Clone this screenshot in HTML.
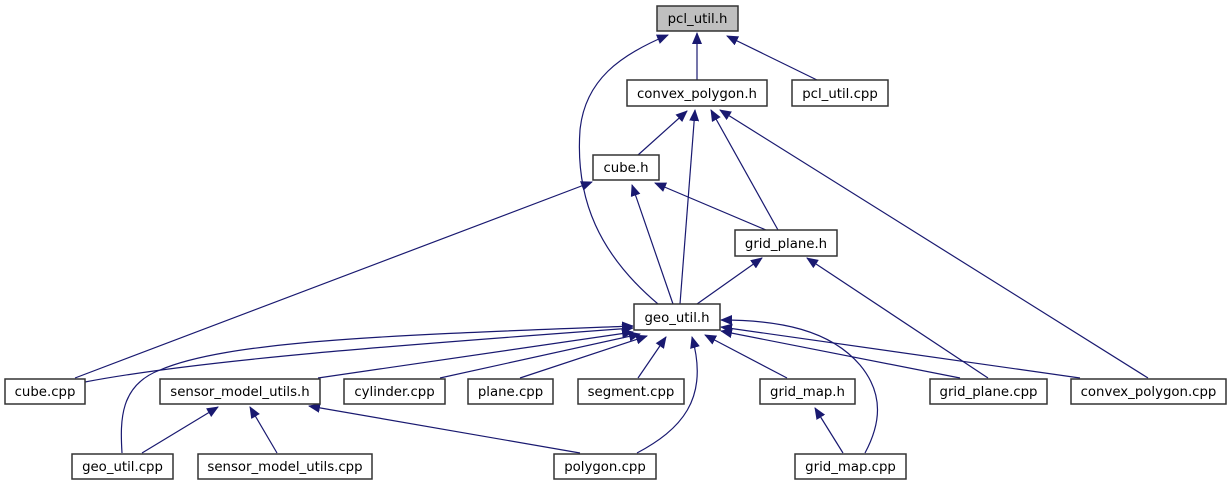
<!DOCTYPE html>
<html><head><meta charset="utf-8"><style>
html,body{margin:0;padding:0;background:#fff;width:1232px;height:485px;overflow:hidden}
svg text{font-family:"DejaVu Sans","Liberation Sans",sans-serif;font-size:13.3px;fill:#000}
</style></head><body>
<svg width="1232" height="485" viewBox="0 0 1232 485" xmlns="http://www.w3.org/2000/svg">
<defs><marker id="a" markerWidth="12" markerHeight="10" refX="11" refY="5" orient="auto" markerUnits="userSpaceOnUse"><path d="M0,0 L12,5 L0,10 z" fill="#191970"/></marker></defs>
<g stroke="#191970" stroke-width="1.2" fill="none" marker-end="url(#a)">
<path d="M697,80 L697,33"/>
<path d="M817,80 L727,36"/>
<path d="M658,304 C600,255 575,200 580,130 C585,80 620,55 668,35"/>
<path d="M638,155 L687,111"/>
<path d="M680,304 L695,110"/>
<path d="M778,230 L711,110"/>
<path d="M1148,378 L720,110"/>
<path d="M75,378 L592,182"/>
<path d="M673,304 L632,185"/>
<path d="M766,230 L655,183"/>
<path d="M697,304 L762,258"/>
<path d="M988,378 L807,258"/>
<path d="M85,382 C200,360 400,345 633,328"/>
<path d="M122,453 C120,420 120,385 160,370 C230,340 400,335 633,326"/>
<path d="M318,378 L633,332"/>
<path d="M440,378 L640,334"/>
<path d="M520,378 L647,336"/>
<path d="M638,378 L666,337"/>
<path d="M787,378 L705,335"/>
<path d="M960,378 L721,331"/>
<path d="M1080,378 L721,327"/>
<path d="M637,453 C680,430 710,400 692,337"/>
<path d="M865,453 C880,425 885,395 860,365 C830,330 780,320 721,320"/>
<path d="M142,453 L218,407"/>
<path d="M277,453 L250,407"/>
<path d="M580,453 L309,406"/>
<path d="M843,453 L815,408"/>
</g>
<g stroke="#333" stroke-width="1.5" fill="#fff">
<rect x="657" y="6" width="81" height="25" fill="#bfbfbf"/>
<rect x="627" y="80" width="140" height="26"/>
<rect x="792" y="80" width="96" height="26"/>
<rect x="593" y="155" width="66" height="25"/>
<rect x="735" y="230" width="102" height="26"/>
<rect x="634" y="304" width="86" height="26"/>
<rect x="5" y="379" width="80" height="25"/>
<rect x="160" y="379" width="160" height="25"/>
<rect x="344" y="379" width="101" height="25"/>
<rect x="468" y="379" width="85" height="25"/>
<rect x="578" y="379" width="106" height="25"/>
<rect x="760" y="379" width="95" height="25"/>
<rect x="930" y="379" width="117" height="25"/>
<rect x="1071" y="379" width="155" height="25"/>
<rect x="72" y="454" width="101" height="25"/>
<rect x="198" y="454" width="174" height="25"/>
<rect x="554" y="454" width="102" height="25"/>
<rect x="795" y="454" width="111" height="25"/>
</g>
<g text-anchor="middle">
<text x="697.5" y="23">pcl_util.h</text>
<text x="697" y="98">convex_polygon.h</text>
<text x="840" y="98">pcl_util.cpp</text>
<text x="626" y="172">cube.h</text>
<text x="786" y="248">grid_plane.h</text>
<text x="677" y="322">geo_util.h</text>
<text x="45" y="396">cube.cpp</text>
<text x="240" y="396">sensor_model_utils.h</text>
<text x="394.5" y="396">cylinder.cpp</text>
<text x="510.5" y="396">plane.cpp</text>
<text x="631" y="396">segment.cpp</text>
<text x="807.5" y="396">grid_map.h</text>
<text x="988.5" y="396">grid_plane.cpp</text>
<text x="1148.5" y="396">convex_polygon.cpp</text>
<text x="122.5" y="471">geo_util.cpp</text>
<text x="285" y="471">sensor_model_utils.cpp</text>
<text x="605" y="471">polygon.cpp</text>
<text x="850.5" y="471">grid_map.cpp</text>
</g>
</svg>
</body></html>
